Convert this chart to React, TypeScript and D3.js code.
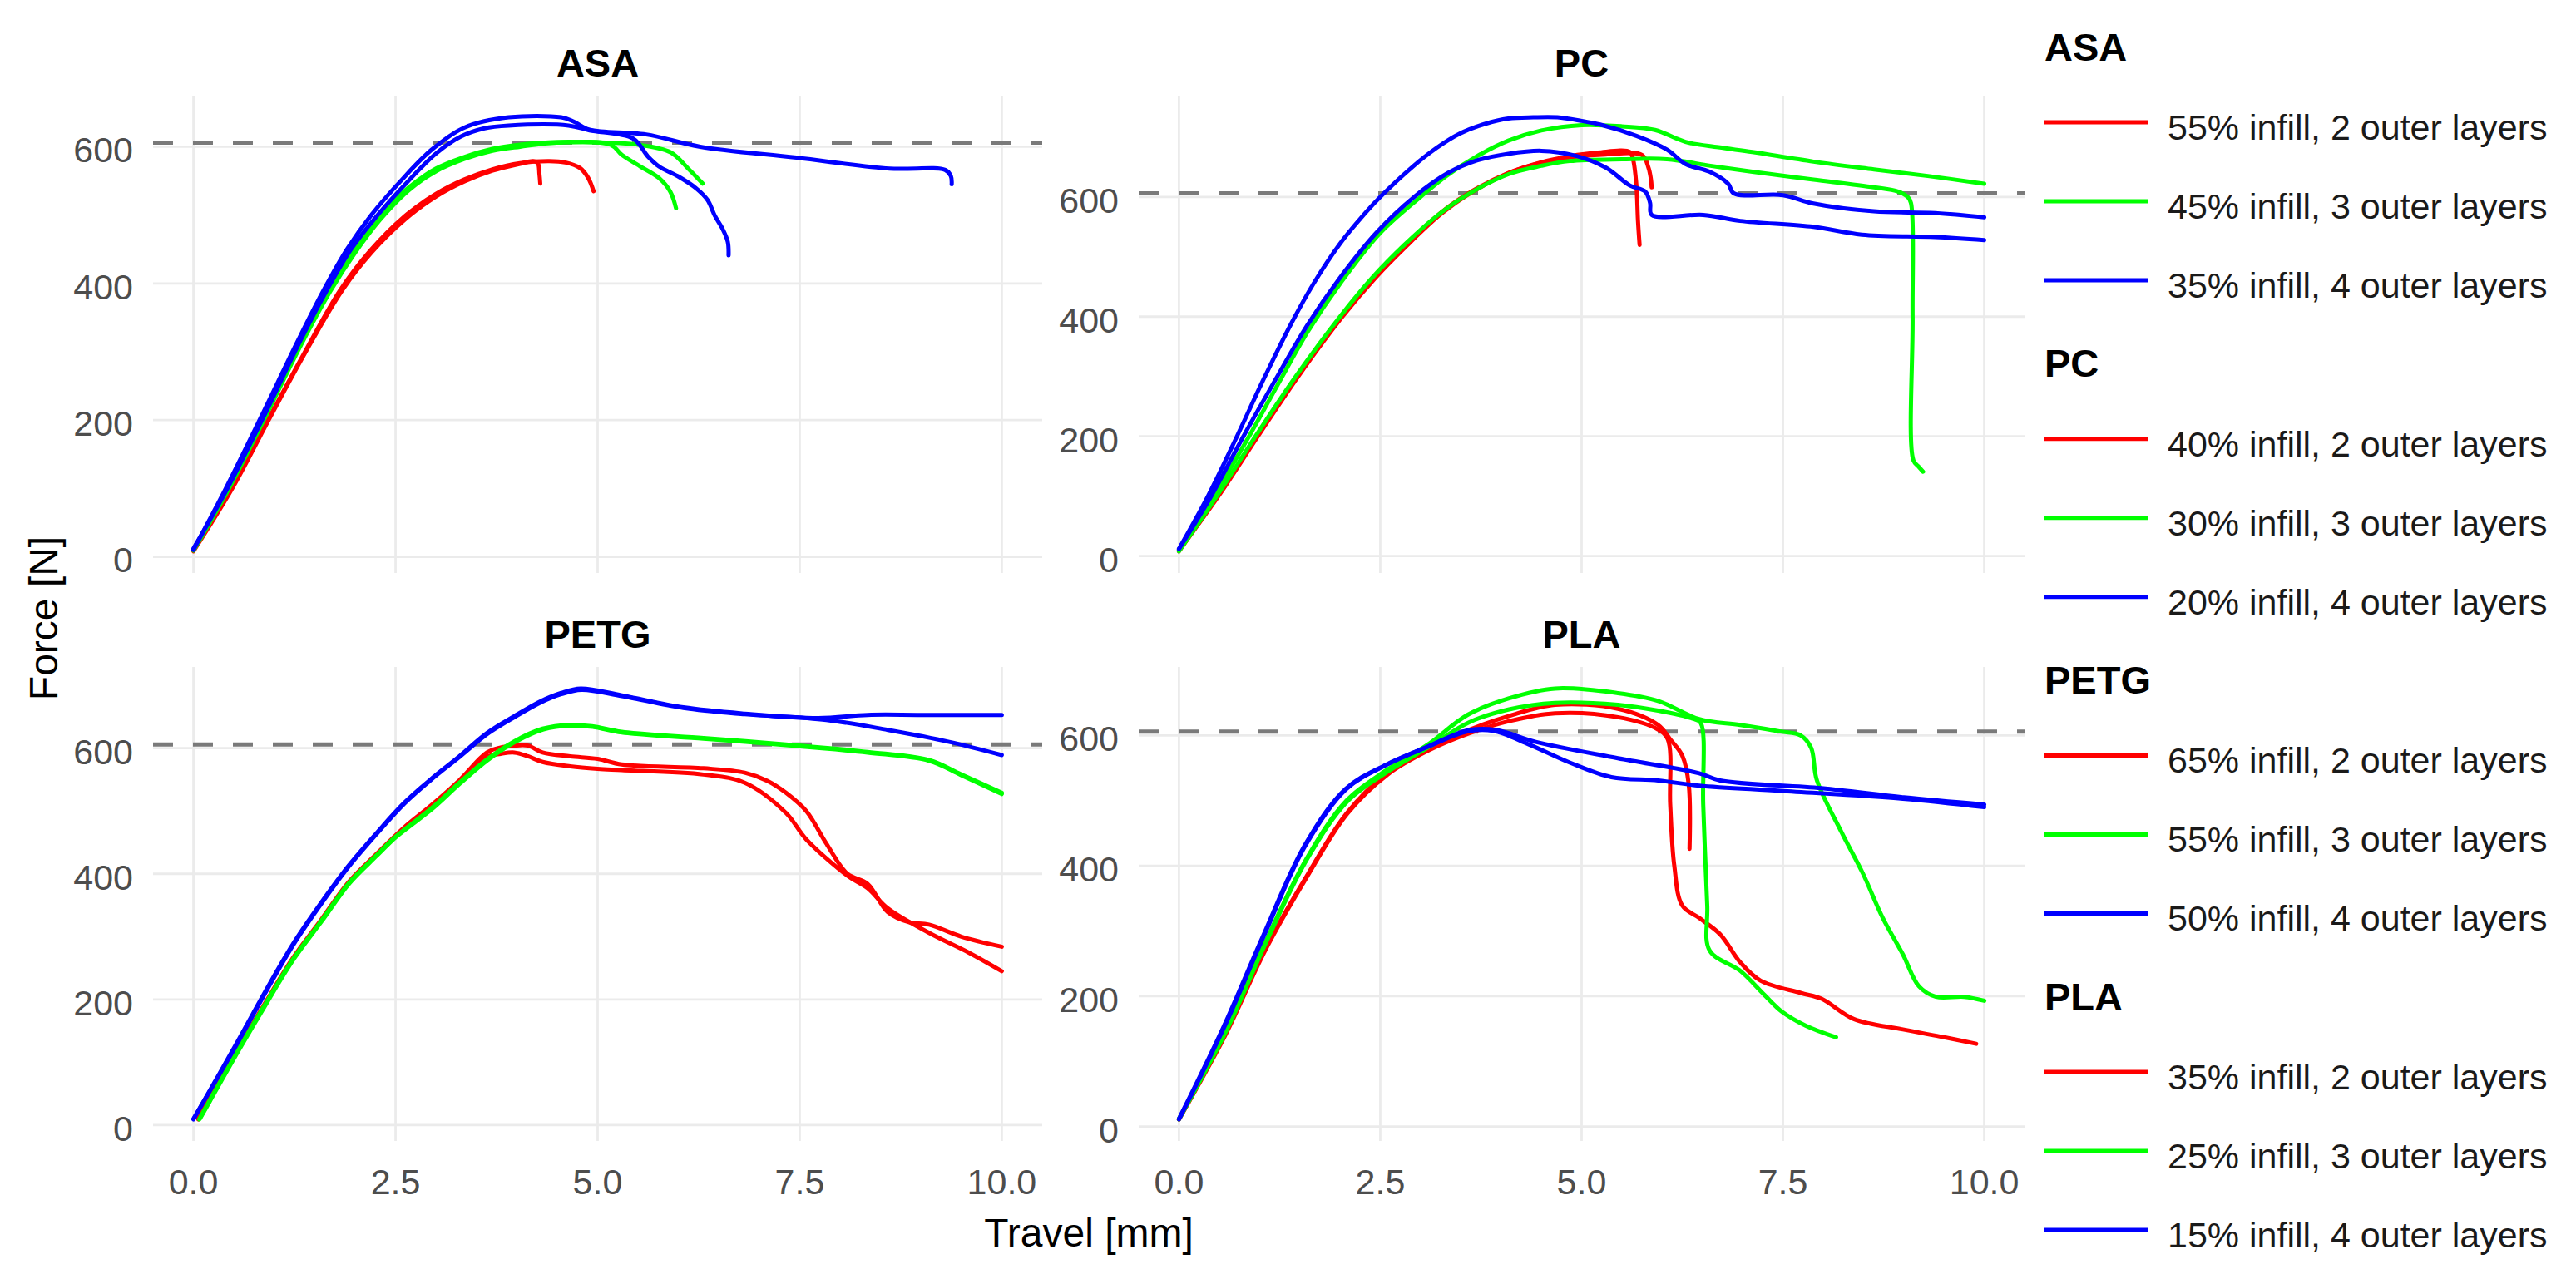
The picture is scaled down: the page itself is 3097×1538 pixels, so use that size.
import React from "react";
import * as d3 from "d3";

type Pt = [number, number];

// ---------- categories / labels ----------
const materials = ["ASA", "PC", "PETG", "PLA"];
const seriesColors = ["#FF0000", "#00FF00", "#0000FF"];
const asaLabels = ["55% infill, 2 outer layers", "45% infill, 3 outer layers", "35% infill, 4 outer layers"];
const pcLabels = ["40% infill, 2 outer layers", "30% infill, 3 outer layers", "20% infill, 4 outer layers"];
const petgLabels = ["65% infill, 2 outer layers", "55% infill, 3 outer layers", "50% infill, 4 outer layers"];
const plaLabels = ["35% infill, 2 outer layers", "25% infill, 3 outer layers", "15% infill, 4 outer layers"];
const xTicks = [0, 2.5, 5, 7.5, 10];
const xTickLabels = ["0.0", "2.5", "5.0", "7.5", "10.0"];
const yTicks = [0, 200, 400, 600];
const xDataRange = [0, 10];
const referenceForce = 606;

// ---------- ASA ----------
const asaRed1: Pt[] = [[0,8],[0.48,100],[0.93,200],[1.38,298],[1.84,390],[2.2,445],[2.62,494],[3.0,527],[3.35,549],[3.7,565],[4.04,575],[4.2,579],[4.26,576],[4.28,560],[4.29,546]];
const asaRed2: Pt[] = [[0,10],[0.47,100],[0.92,200],[1.37,298],[1.82,391],[2.18,447],[2.6,497],[3.0,531],[3.35,552],[3.7,567],[4.04,576],[4.4,579],[4.6,577],[4.78,569],[4.88,555],[4.95,535]];
const asaGreen1: Pt[] = [[0,9],[0.44,100],[0.87,200],[1.33,310],[1.7,390],[2.0,445],[2.3,492],[2.66,536],[3.0,564],[3.35,582],[3.7,594],[4.04,600],[4.5,606],[5.16,603],[5.3,588],[5.53,571],[5.76,554],[5.9,534],[5.97,510]];
const asaGreen2: Pt[] = [[0,11],[0.43,100],[0.86,200],[1.32,312],[1.68,393],[1.98,448],[2.28,496],[2.66,540],[3.0,568],[3.35,585],[3.7,597],[4.04,603],[4.5,607],[5.1,606],[5.5,603],[5.9,592],[6.12,568],[6.3,546]];
const asaBlue1: Pt[] = [[0,10],[0.4,100],[0.83,203],[1.3,318],[1.61,390],[1.9,450],[2.2,500],[2.55,548],[2.94,595],[3.35,628],[3.9,643],[4.55,643],[4.7,637],[4.9,625],[5.6,618],[6.27,600],[7.46,584],[8.61,568],[9.3,566],[9.37,557],[9.38,545]];
const asaBlue2: Pt[] = [[0,12],[0.42,100],[0.86,203],[1.33,318],[1.65,390],[1.95,450],[2.25,496],[2.62,545],[3.0,590],[3.31,615],[3.6,627],[3.9,631],[4.64,631],[4.9,624],[5.44,612],[5.62,586],[5.76,571],[5.99,557],[6.22,539],[6.36,522],[6.45,499],[6.54,481],[6.61,461],[6.62,441]];

// ---------- PC ----------
const pcRed1: Pt[] = [[0,8],[0.48,100],[0.97,200],[1.47,300],[2.02,400],[2.42,465],[2.82,520],[3.22,570],[3.56,603],[4.09,640],[4.5,658],[4.85,668],[5.2,674],[5.6,675],[5.64,662],[5.68,620],[5.7,560],[5.72,520]];
const pcRed2: Pt[] = [[0,9],[0.49,100],[0.98,200],[1.48,300],[2.03,400],[2.44,465],[2.84,520],[3.24,570],[3.58,603],[4.1,640],[4.5,657],[4.85,666],[5.3,671],[5.75,670],[5.83,649],[5.86,630],[5.87,616]];
const pcGreen1: Pt[] = [[0,10],[0.43,100],[0.87,200],[1.25,292],[1.6,375],[2.0,455],[2.5,540],[3.0,600],[3.33,636],[3.7,668],[4.09,694],[4.5,711],[5.0,720],[5.5,718],[5.91,712],[6.29,692],[6.7,683],[7.12,675],[7.88,659],[8.63,646],[9.3,635],[10,622]];
const pcGreen2: Pt[] = [[0,8],[0.47,100],[0.95,200],[1.45,300],[2.0,400],[2.4,465],[2.8,520],[3.2,568],[3.56,602],[4.09,638],[4.5,652],[4.85,660],[5.5,663],[6.06,663],[6.6,652],[7.12,642],[7.88,629],[8.63,616],[8.93,609],[9.05,600],[9.09,590],[9.11,400],[9.12,160],[9.18,150],[9.24,141]];
const pcBlue1: Pt[] = [[0,12],[0.36,100],[0.72,200],[1.06,298],[1.4,390],[1.67,455],[2.0,522],[2.28,568],[2.5,600],[2.88,648],[3.2,682],[3.49,706],[3.8,722],[4.09,731],[4.4,733],[4.7,733],[5.0,727],[5.23,721],[5.68,702],[6.06,679],[6.29,655],[6.59,642],[6.82,622],[6.89,606],[7.5,603],[7.88,589],[8.63,576],[9.39,573],[10,566]];
const pcBlue2: Pt[] = [[0,12],[0.4,100],[0.8,200],[1.2,295],[1.59,385],[2.0,465],[2.45,540],[2.92,600],[3.34,640],[3.7,661],[4.09,672],[4.5,677],[4.92,669],[5.3,649],[5.6,619],[5.79,609],[5.85,590],[5.87,570],[6.51,570],[6.97,560],[7.88,550],[8.48,537],[9.39,533],[10,528]];

// ---------- PETG ----------
const petgRed1: Pt[] = [[0.06,9],[0.55,121],[0.89,195],[1.23,266],[1.58,327],[1.92,387],[2.26,431],[2.6,473],[2.95,510],[3.29,549],[3.63,593],[3.8,601],[3.97,604],[4.14,604],[4.32,593],[4.66,587],[5.0,583],[5.3,574],[6.31,568],[6.82,561],[7.1,548],[7.33,529],[7.58,500],[7.83,448],[8.09,400],[8.34,384],[8.59,339],[8.85,323],[9.1,319],[9.5,300],[10,284]];
const petgRed2: Pt[] = [[0.06,10],[0.56,121],[0.9,195],[1.24,266],[1.59,327],[1.93,387],[2.27,431],[2.61,472],[2.96,509],[3.3,547],[3.63,586],[3.8,591],[3.97,593],[4.14,587],[4.32,578],[4.66,571],[5.0,567],[5.3,565],[6.31,558],[6.82,545],[7.33,497],[7.58,455],[8.09,397],[8.34,377],[8.59,345],[9.1,306],[9.6,274],[10,245]];
const petgGreen1: Pt[] = [[0.07,9],[0.55,119],[0.89,193],[1.23,264],[1.58,325],[1.92,385],[2.26,429],[2.5,459],[2.95,505],[3.29,545],[3.63,582],[3.97,611],[4.32,631],[4.66,637],[4.93,635],[5.3,626],[6.31,616],[7.33,606],[8.34,594],[9.1,581],[9.5,558],[10,529]];
const petgGreen2: Pt[] = [[0.08,10],[0.56,119],[0.9,193],[1.24,264],[1.59,325],[1.93,385],[2.27,429],[2.51,459],[2.96,504],[3.3,544],[3.64,581],[3.98,610],[4.33,630],[4.67,636],[4.94,634],[5.3,625],[6.31,615],[7.33,605],[8.34,593],[9.1,580],[9.5,557],[10,527]];
const petgBlue1: Pt[] = [[0,9],[0.55,134],[0.89,213],[1.23,288],[1.58,354],[1.92,413],[2.26,464],[2.6,512],[2.95,552],[3.29,587],[3.63,624],[3.97,651],[4.3,675],[4.55,688],[4.79,695],[5.3,684],[6.06,665],[6.82,655],[7.73,648],[8.34,653],[9.0,653],[10,653]];
const petgBlue2: Pt[] = [[0,10],[0.56,134],[0.9,213],[1.24,288],[1.59,354],[1.93,413],[2.27,464],[2.61,512],[2.96,552],[3.3,587],[3.64,623],[3.98,650],[4.3,673],[4.55,686],[4.8,693],[5.3,683],[6.06,664],[6.82,654],[7.83,645],[8.59,629],[9.35,610],[10,589]];

// ---------- PLA ----------
const plaRed1: Pt[] = [[0,11],[0.56,139],[1.06,270],[1.57,381],[2.08,480],[2.58,542],[3.09,580],[3.59,608],[4.1,630],[4.67,647],[5.45,641],[5.95,616],[6.1,594],[6.25,569],[6.33,525],[6.34,426]];
const plaRed2: Pt[] = [[0,11],[0.57,139],[1.07,270],[1.58,381],[2.09,480],[2.59,540],[3.1,577],[3.6,603],[4.1,622],[4.67,634],[5.45,628],[5.95,609],[6.07,594],[6.1,494],[6.15,401],[6.25,339],[6.46,320],[6.72,295],[6.97,252],[7.22,224],[7.72,205],[7.98,196],[8.38,165],[8.99,149],[9.5,137],[9.9,127]];
const plaGreen1: Pt[] = [[0,11],[0.57,145],[1.07,282],[1.58,410],[2.08,500],[2.58,547],[3.09,586],[3.59,632],[4.1,657],[4.67,672],[5.45,665],[5.95,653],[6.46,625],[6.97,616],[7.47,606],[7.72,600],[7.85,581],[7.92,532],[8.23,451],[8.49,389],[8.74,320],[8.99,264],[9.19,215],[9.4,199],[9.75,199],[10,193]];
const plaGreen2: Pt[] = [[0,12],[0.58,145],[1.08,282],[1.59,410],[2.1,500],[2.6,545],[3.1,582],[3.6,620],[4.1,640],[4.67,650],[5.45,647],[5.95,638],[6.4,625],[6.48,619],[6.51,494],[6.56,339],[6.59,270],[6.97,239],[7.27,202],[7.48,177],[7.78,155],[8.16,137]];
const plaBlue1: Pt[] = [[0,11],[0.56,152],[1.06,294],[1.57,431],[2.08,518],[2.58,555],[3.09,583],[3.59,608],[3.95,608],[4.43,590],[5.45,565],[6.46,542],[6.72,531],[7.98,519],[9.0,505],[10,494]];
const plaBlue2: Pt[] = [[0,12],[0.55,152],[1.05,294],[1.56,431],[2.07,518],[2.57,555],[3.08,582],[3.58,606],[3.9,607],[4.35,586],[4.86,558],[5.37,536],[5.95,531],[6.46,523],[7.47,515],[8.99,503],[10,490]];

// ---------- assembled tables ----------
const panelCurves: Pt[][][] = [
  [[asaRed1, asaRed2], [asaGreen1, asaGreen2], [asaBlue1, asaBlue2]],
  [[pcRed1, pcRed2], [pcGreen1, pcGreen2], [pcBlue1, pcBlue2]],
  [[petgRed1, petgRed2], [petgGreen1, petgGreen2], [petgBlue1, petgBlue2]],
  [[plaRed1, plaRed2], [plaGreen1, plaGreen2], [plaBlue1, plaBlue2]],
];
const legendLabels = [asaLabels, pcLabels, petgLabels, plaLabels];

// ---------- layout ----------
const W = 3097;
const H = 1538;
const colX: [number, number][] = [[184, 1253], [1369, 2434]];
const rowY: [number, number][] = [[115, 689], [802, 1372]];
const FONT = "'Liberation Sans', Arial, Helvetica, sans-serif";

function expand([a, b]: number[]): [number, number] {
  const p = (b - a) * 0.05;
  return [a - p, b + p];
}

const lineGen = (xs: d3.ScaleLinear<number, number>, ys: d3.ScaleLinear<number, number>) =>
  d3
    .line<Pt>()
    .x((d) => xs(d[0]))
    .y((d) => ys(d[1]))
    .curve(d3.curveCatmullRom.alpha(0.5));

function Panel({ index }: { index: number }) {
  const col = index % 2;
  const row = Math.floor(index / 2);
  const [x0, x1] = colX[col];
  const [y0, y1] = rowY[row];
  const curves = panelCurves[index];
  const allPts: Pt[] = [];
  curves.forEach((g) => g.forEach((c) => c.forEach((p) => allPts.push(p))));
  const yExt = d3.extent(allPts, (d) => d[1]) as [number, number];
  const xs = d3.scaleLinear().domain(expand(xDataRange)).range([x0, x1]);
  const ys = d3.scaleLinear().domain(expand(yExt)).range([y1, y0]);
  const lg = lineGen(xs, ys);
  return (
    <g>
      {yTicks.map((t) => (
        <line key={"gy" + t} x1={x0} x2={x1} y1={ys(t)} y2={ys(t)} stroke="#EBEBEB" strokeWidth={2.8} />
      ))}
      {xTicks.map((t) => (
        <line key={"gx" + t} x1={xs(t)} x2={xs(t)} y1={y0} y2={y1} stroke="#EBEBEB" strokeWidth={2.8} />
      ))}
      <line
        x1={x0}
        x2={x1}
        y1={ys(referenceForce)}
        y2={ys(referenceForce)}
        stroke="#7A7A7A"
        strokeWidth={5}
        strokeDasharray="24 24"
      />
      {curves.map((group, gi) =>
        group.map((c, ci) => (
          <path
            key={gi + "-" + ci}
            d={lg(c) || ""}
            fill="none"
            stroke={seriesColors[gi]}
            strokeWidth={5}
            strokeLinejoin="round"
            strokeLinecap="round"
          />
        ))
      )}
      {yTicks.map((t) => (
        <text
          key={"ty" + t}
          x={x0 - 24}
          y={ys(t) + 4}
          textAnchor="end"
          dominantBaseline="central"
          fontSize={43}
          fill="#4D4D4D"
          fontFamily={FONT}
        >
          {t}
        </text>
      ))}
      {row === 1 &&
        xTicks.map((t, i) => (
          <text
            key={"tx" + t}
            x={xs(t)}
            y={1421}
            textAnchor="middle"
            dominantBaseline="central"
            fontSize={43}
            fill="#4D4D4D"
            fontFamily={FONT}
          >
            {xTickLabels[i]}
          </text>
        ))}
      <text
        x={(x0 + x1) / 2}
        y={y0 - 40}
        textAnchor="middle"
        dominantBaseline="central"
        fontSize={47}
        fontWeight="bold"
        fill="#000"
        fontFamily={FONT}
      >
        {materials[index]}
      </text>
    </g>
  );
}

function Legend() {
  const lx0 = 2458;
  const lx1 = 2583;
  const tx = 2606;
  return (
    <g>
      {materials.map((m, g) => {
        const top = 56 + g * 380.7;
        return (
          <g key={m}>
            <text
              x={lx0}
              y={top}
              dominantBaseline="central"
              fontSize={47}
              fontWeight="bold"
              fill="#000"
              fontFamily={FONT}
            >
              {m}
            </text>
            {legendLabels[g].map((lab, i) => {
              const y = top + 91 + i * 95;
              return (
                <g key={lab + i}>
                  <line x1={lx0} x2={lx1} y1={y} y2={y} stroke={seriesColors[i]} strokeWidth={5} />
                  <text
                    x={tx}
                    y={y + 6}
                    dominantBaseline="central"
                    fontSize={43}
                    fill="#1A1A1A"
                    fontFamily={FONT}
                  >
                    {lab}
                  </text>
                </g>
              );
            })}
          </g>
        );
      })}
    </g>
  );
}

export default function App() {
  return (
    <svg
      width={W}
      height={H}
      viewBox={`0 0 ${W} ${H}`}
      style={{ position: "absolute", left: 0, top: 0, background: "#fff" }}
    >
      <rect x={0} y={0} width={W} height={H} fill="#fff" />
      {materials.map((m, i) => (
        <Panel key={m} index={i} />
      ))}
      <text
        x={(colX[0][0] + colX[1][1]) / 2}
        y={1482}
        textAnchor="middle"
        dominantBaseline="central"
        fontSize={48}
        fill="#000"
        fontFamily={FONT}
      >
        Travel [mm]
      </text>
      <text
        transform={`translate(52, ${(rowY[0][0] + rowY[1][1]) / 2}) rotate(-90)`}
        textAnchor="middle"
        dominantBaseline="central"
        fontSize={48}
        fill="#000"
        fontFamily={FONT}
      >
        Force [N]
      </text>
      <Legend />
    </svg>
  );
}
